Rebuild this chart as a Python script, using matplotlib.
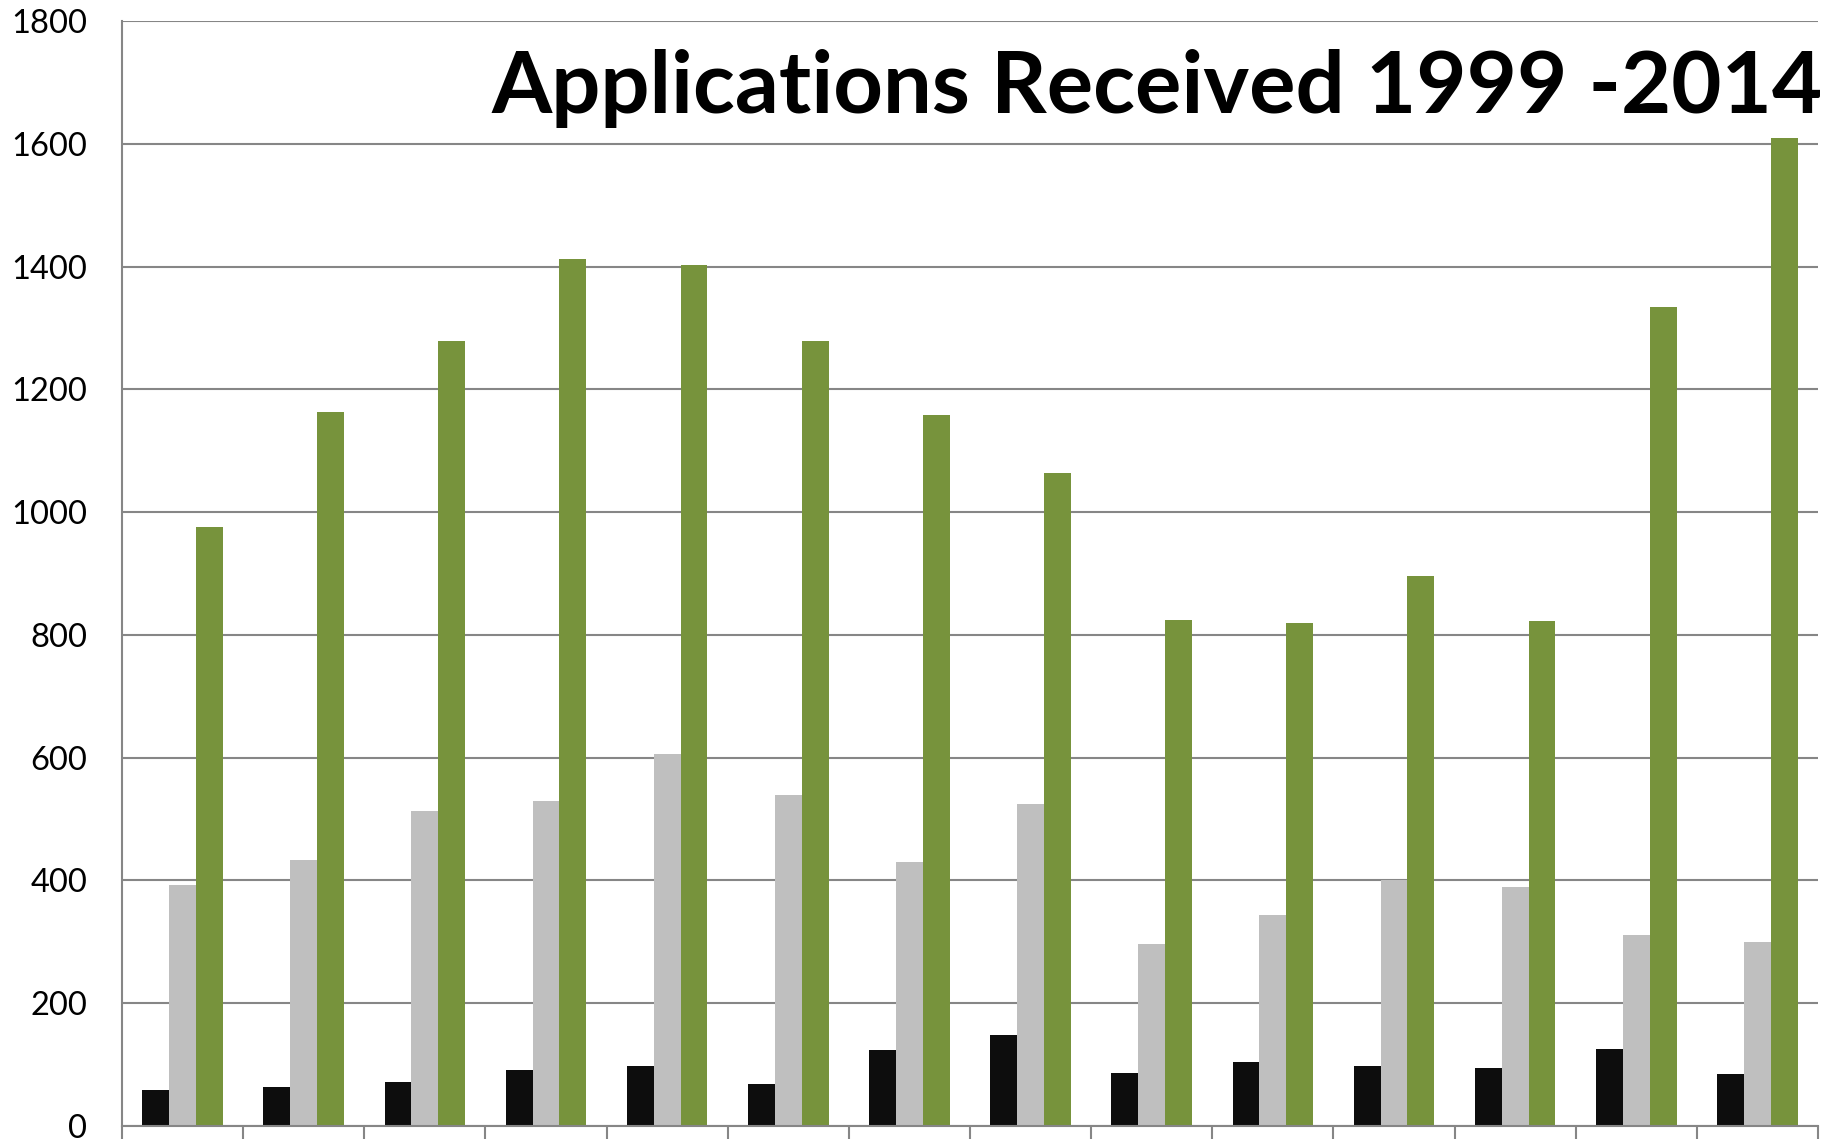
import matplotlib.pyplot as plt
import numpy as np

# values (14 groups, 3 series each)
series_black = [59, 64, 72, 92, 98, 68, 123, 148, 87, 104, 97, 94, 126, 84]
series_gray = [392, 434, 513, 529, 606, 540, 430, 525, 297, 343, 400, 390, 311, 299]
series_green = [976, 1163, 1279, 1413, 1402, 1279, 1158, 1063, 824, 820, 896, 822, 1334, 1609]

y_ticks = [0, 200, 400, 600, 800, 1000, 1200, 1400, 1600, 1800]
title = "Applications Received 1999 -2014"

colours = ["#0d0d0d", "#bfbfbf", "#77933c"]
grid_col = "#868686"

fig = plt.figure(figsize=(18.24, 11.39), dpi=100)
ax = fig.add_axes([122 / 1824, 13 / 1139, (1818 - 122) / 1824, (1126 - 21) / 1139])

x = np.arange(len(series_green))
w = 0.222
for k, (vals, c) in enumerate(zip([series_black, series_gray, series_green], colours)):
    ax.bar(x + (k - 1) * w, vals, width=w, color=c, edgecolor="none", zorder=3)

ax.set_xlim(-0.5, len(x) - 0.5)
ax.set_ylim(0, 1800)
ax.set_yticks(y_ticks)
ax.set_yticklabels([str(v) for v in y_ticks], fontsize=23.5, family="Lato")
ax.tick_params(axis="y", length=0, pad=25)
ax.set_xticks(np.arange(-0.5, len(x), 1.0))
ax.set_xticklabels([])
ax.tick_params(axis="x", length=16, width=1.5, color=grid_col, direction="out")

ax.grid(axis="y", color=grid_col, linewidth=1.5, zorder=0)
ax.set_axisbelow(True)
for side in ["top", "right"]:
    ax.spines[side].set_visible(False)
for side in ["left", "bottom"]:
    ax.spines[side].set_color(grid_col)
    ax.spines[side].set_linewidth(1.5)
    ax.spines[side].set_zorder(4)

fig.text(0.9995, 1 - 113 / 1139, title, ha="right", va="baseline",
         fontsize=62.5, fontweight="bold", family="Lato")

fig.savefig("out.png", dpi=100)
